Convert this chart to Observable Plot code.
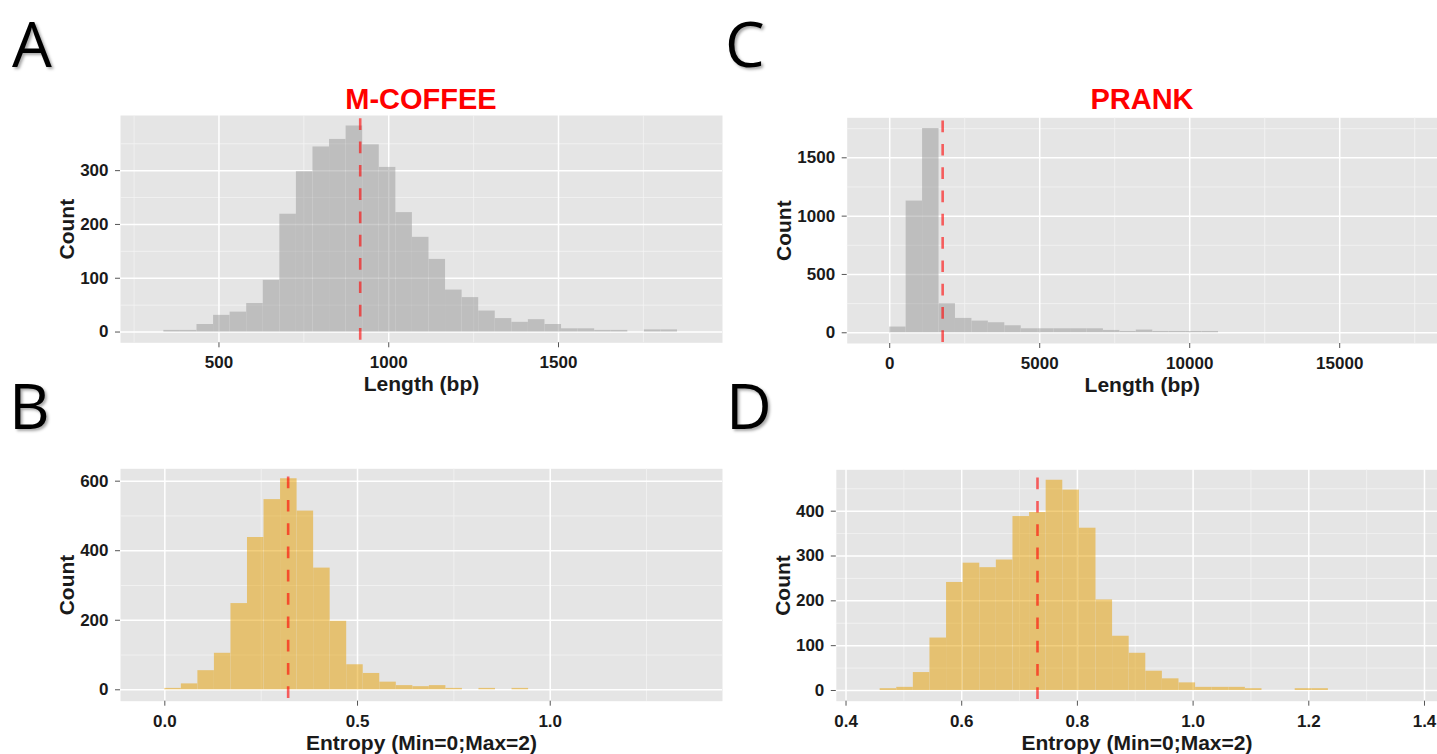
<!DOCTYPE html>
<html>
<head>
<meta charset="utf-8">
<script src="https://cdn.jsdelivr.net/npm/d3@7"></script>
<script src="https://cdn.jsdelivr.net/npm/@observablehq/plot@0.6"></script>
<style>
html, body { margin: 0; padding: 0; background: #ffffff; overflow: hidden; width: 1437px; height: 754px; }
#root { position: relative; width: 1437px; height: 754px; }
.cell { position: absolute; }
.letter { position: absolute; font-family: "Open Sans", "Noto Sans", sans-serif; font-size: 63px; line-height: 1; color: #000; text-shadow: 2px 2px 3px rgba(0,0,0,0.35); white-space: nowrap; }
.title { position: absolute; font-family: "Liberation Sans", Arial, sans-serif; font-weight: bold; font-size: 29px; color: #ff0000; text-align: center; line-height: 1; white-space: nowrap; }
svg g[aria-label="x-axis label"], svg g[aria-label="y-axis label"] { font-size: 21px; }
svg g[aria-label="rect"] { opacity: 0.5; }
</style>
</head>
<body>
<div id="root"></div>
<script>
// ---------- data ----------
const titles = ["M-COFFEE", "PRANK"];
const panelLetters = ["A", "B", "C", "D"];
const xLabels = ["Length (bp)", "Entropy (Min=0;Max=2)"];
const yLabel = "Count";

// A: M-COFFEE alignment length
const mcoffeeLenStart = 337.7, mcoffeeLenWidth = 48.8;
const mcoffeeLenCounts = [3,3,14,31,37,53,96,219,298,344,358,383,348,306,222,176,135,78,64,39,25,18,23,14,6,6,3,3,0,4,4];
const mcoffeeLenMean = 916;

// C: PRANK alignment length
const prankLenStart = 0, prankLenWidth = 548;
const prankLenCounts = [49,1129,1751,249,123,100,86,60,34,34,34,34,34,20,11,23,11,11,11,11];
const prankLenMean = 1765;

// B: M-COFFEE entropy
const mcoffeeEntStart = 0, mcoffeeEntWidth = 0.0429;
const mcoffeeEntCounts = [4,17,55,105,248,438,547,607,514,350,197,72,47,22,12,9,12,4,0,4,0,4];
const mcoffeeEntMean = 0.32;

// D: PRANK entropy
const prankEntStart = 0.459, prankEntWidth = 0.0287;
const prankEntCounts = [4,7,40,117,241,284,274,291,388,397,469,447,362,202,121,83,43,26,17,7,7,7,4,0,0,4,4];
const prankEntMean = 0.731;

// tick values
const lenTicksA = [500, 1000, 1500], lenMinorA = [250, 750, 1250, 1750];
const lenTicksC = [0, 5000, 10000, 15000], lenMinorC = [2500, 7500, 12500, 17500];
const entTicksB = [0, 0.5, 1.0], entMinorB = [0.25, 0.75, 1.25];
const entTicksD = [0.4, 0.6, 0.8, 1.0, 1.2, 1.4], entMinorD = [0.5, 0.7, 0.9, 1.1, 1.3];
const countTicksA = [0, 100, 200, 300], countMinorA = [50, 150, 250, 350];
const countTicksC = [0, 500, 1000, 1500], countMinorC = [250, 750, 1250, 1750];
const countTicksB = [0, 200, 400, 600], countMinorB = [100, 300, 500];
const countTicksD = [0, 100, 200, 300, 400], countMinorD = [50, 150, 250, 350, 450];

// ---------- drawing ----------
const root = document.getElementById("root");

function bins(start, width, counts) {
  return counts.map((c, i) => ({x1: start + i * width, x2: start + (i + 1) * width, count: c})).filter(d => d.count > 0);
}

function panel(o) {
  const chart = Plot.plot({
    width: o.w, height: o.h,
    marginLeft: o.ml, marginRight: o.mr, marginTop: o.mt, marginBottom: o.mb,
    x: {domain: o.xDomain},
    y: {domain: o.yDomain},
    style: {fontFamily: "'Liberation Sans', Arial, sans-serif", fontSize: "17px", fontWeight: "bold", background: "transparent", overflow: "visible"},
    marks: [
      Plot.frame({fill: "#E5E5E5", stroke: "none"}),
      Plot.gridX(o.xMinor, {stroke: "#F4F4F4", strokeOpacity: 1, strokeWidth: 0.8}),
      Plot.gridY(o.yMinor, {stroke: "#F4F4F4", strokeOpacity: 1, strokeWidth: 0.8}),
      Plot.gridX(o.xTicks, {stroke: "#FFFFFF", strokeOpacity: 1, strokeWidth: 1.5}),
      Plot.gridY(o.yTicks, {stroke: "#FFFFFF", strokeOpacity: 1, strokeWidth: 1.5}),
      Plot.rectY(bins(o.start, o.width, o.counts), {x1: "x1", x2: "x2", y: "count", fill: o.fill}),
      Plot.ruleX([o.mean], {stroke: "#FF0000", strokeOpacity: 0.6, strokeWidth: 2.6, strokeDasharray: "11.7,11.6", strokeDashoffset: o.dashOffset}),
      Plot.axisX(o.xTicks, {tickFormat: o.xFormat, tickSize: 5, tickPadding: o.xPad, stroke: "#555555", fill: "#1a1a1a",
        label: o.xLabel, labelAnchor: "center", labelOffset: o.xLabelOffset, labelArrow: "none"}),
      Plot.axisY(o.yTicks, {tickFormat: "d", tickSize: 5, tickPadding: 7, stroke: "#555555", fill: "#1a1a1a",
        label: yLabel, labelAnchor: "center", labelOffset: o.yLabelOffset, labelArrow: "none"})
    ]
  });
  const div = document.createElement("div");
  div.className = "cell";
  div.style.left = o.left + "px";
  div.style.top = o.top + "px";
  div.style.width = o.w + "px";
  div.style.height = o.h + "px";
  div.appendChild(chart);
  root.appendChild(div);
}

const grayFill = "#999999";
const orangeFill = "#E69F00";

panel({left: 0, top: 85, w: 740, h: 320, ml: 120, mr: 18, mt: 30, mb: 62.7,
  xDomain: [210, 1983], yDomain: [-20, 402.5],
  start: mcoffeeLenStart, width: mcoffeeLenWidth, counts: mcoffeeLenCounts, mean: mcoffeeLenMean, fill: grayFill,
  xTicks: lenTicksA, xMinor: lenMinorA, yTicks: countTicksA, yMinor: countMinorA,
  xFormat: "d", xPad: 8, xLabel: xLabels[0], xLabelOffset: 48, yLabelOffset: 61.7, dashOffset: 20});

panel({left: 740, top: 85, w: 697, h: 320, ml: 106.7, mr: 0, mt: 32.3, mb: 62,
  xDomain: [-1417, 18260], yDomain: [-92, 1843],
  start: prankLenStart, width: prankLenWidth, counts: prankLenCounts, mean: prankLenMean, fill: grayFill,
  xTicks: lenTicksC, xMinor: lenMinorC, yTicks: countTicksC, yMinor: countMinorC,
  xFormat: "d", xPad: 8, xLabel: xLabels[0], xLabelOffset: 48, yLabelOffset: 71.2, dashOffset: 20});

panel({left: 0, top: 440, w: 740, h: 314, ml: 120, mr: 18, mt: 28.3, mb: 53.3,
  xDomain: [-0.115, 1.447], yDomain: [-32.8, 635.6],
  start: mcoffeeEntStart, width: mcoffeeEntWidth, counts: mcoffeeEntCounts, mean: mcoffeeEntMean, fill: orangeFill,
  xTicks: entTicksB, xMinor: entMinorB, yTicks: countTicksB, yMinor: countMinorB,
  xFormat: ".1f", xPad: 8.5, xLabel: xLabels[1], xLabelOffset: 48.5, yLabelOffset: 61.7, dashOffset: 15});

panel({left: 740, top: 440, w: 697, h: 314, ml: 95.8, mr: 0, mt: 29.3, mb: 53.3,
  xDomain: [0.3832, 1.4225], yDomain: [-23.9, 492.3],
  start: prankEntStart, width: prankEntWidth, counts: prankEntCounts, mean: prankEntMean, fill: orangeFill,
  xTicks: entTicksD, xMinor: entMinorD, yTicks: countTicksD, yMinor: countMinorD,
  xFormat: ".1f", xPad: 8.5, xLabel: xLabels[1], xLabelOffset: 48.5, yLabelOffset: 60.8, dashOffset: 15});

// titles (centered over the panels)
function addTitle(text, centerX, top) {
  const d = document.createElement("div");
  d.className = "title";
  d.textContent = text;
  d.style.left = (centerX - 200) + "px";
  d.style.width = "400px";
  d.style.top = top + "px";
  root.appendChild(d);
}
addTitle(titles[0], 421, 84.5);
addTitle(titles[1], 1142, 84.5);

// panel letters
const letterPos = [[12, 11], [9, 373], [725, 11], [726, 373]];
panelLetters.forEach((t, i) => {
  const d = document.createElement("div");
  d.className = "letter";
  d.textContent = t;
  d.style.left = letterPos[i][0] + "px";
  d.style.top = letterPos[i][1] + "px";
  root.appendChild(d);
});
</script>
</body>
</html>
